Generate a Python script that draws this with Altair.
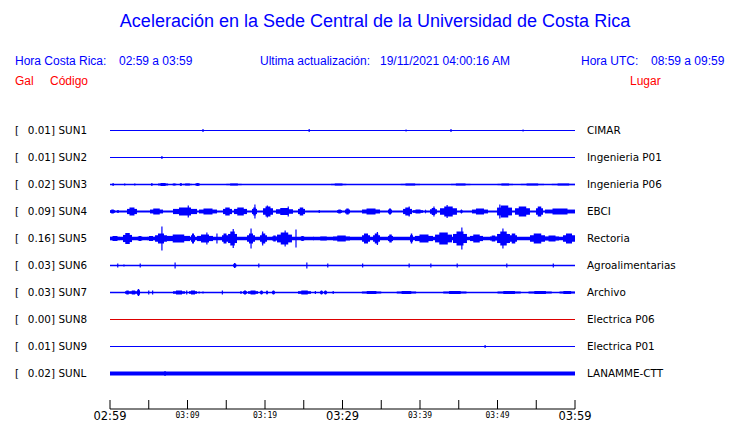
import altair as alt
import pandas as pd

# ---------------- data ----------------
codes = ["SUN1", "SUN2", "SUN3", "SUN4", "SUN5", "SUN6", "SUN7", "SUN8", "SUN9", "SUNL"]
gal = ["0.01", "0.01", "0.02", "0.09", "0.16", "0.03", "0.03", "0.00", "0.01", "0.02"]
places = ["CIMAR", "Ingenieria P01", "Ingenieria P06", "EBCI", "Rectoria",
          "Agroalimentarias", "Archivo", "Electrica P06", "Electrica P01", "LANAMME-CTT"]

# minutes after 02:59, tick every 5 min
tick_minutes = [0, 5, 10, 15, 20, 25, 30, 35, 40, 45, 50, 55, 60]
major_ticks = [0, 30, 60]
major_labels = ["02:59", "03:29", "03:59"]
minor_ticks = [10, 20, 40, 50]
minor_labels = ["03:09", "03:19", "03:39", "03:49"]

# waveform envelopes: (start min, end min, half amplitude)
sun1_bursts = []
sun1_spikes = [(12.0, 1.5), (25.7, 1.5), (38.2, 1.0), (44.0, 1.5), (53.3, 1.0)]
sun2_bursts = []
sun2_spikes = [(6.7, 1.5)]
sun3_bursts = [(5.3, 5.5, 1.5), (6.2, 7.5, 1.5), (8.0, 8.6, 1), (9.0, 9.3, 1.5), (9.4, 10.6, 1),
               (11.0, 11.6, 1.5), (15.0, 17.0, 1), (28.5, 30.5, 1), (37.5, 40.0, 1),
               (44.0, 46.5, 1), (50.0, 52.0, 1), (53.0, 56.0, 1), (57.0, 60.0, 1)]
sun3_spikes = [(0.4, 1.5), (1.9, 1.0), (3.2, 1.0)]
sun4_bursts = [(0.0, 0.65, 2), (0.9, 1.16, 1.5), (2.19, 3.48, 4), (5.16, 6.84, 3), (8.13, 11.23, 4),
               (11.48, 13.81, 3), (14.58, 15.74, 4), (16.0, 17.68, 4), (18.32, 18.97, 4),
               (19.74, 21.03, 5), (21.42, 23.61, 3.5), (24.26, 25.16, 4), (29.29, 29.94, 2),
               (30.32, 30.97, 3), (32.52, 34.84, 3), (35.87, 36.39, 3), (37.81, 38.97, 4),
               (39.10, 40.39, 2), (40.65, 40.8, 2), (41.29, 42.19, 3.5), (42.58, 44.77, 5),
               (45.2, 45.5, 2), (46.71, 48.77, 3), (49.94, 51.87, 6), (52.26, 54.19, 5),
               (54.97, 55.87, 5), (56.13, 60.0, 3)]
sun4_spikes = [(10.1, 6), (18.7, 7), (20.3, 6), (23.0, 5), (27.0, 1.5), (38.6, 5), (41.8, 5),
               (43.5, 6.5), (50.3, 7)]
sun5_bursts = [(0.0, 1.29, 2.5), (1.68, 2.84, 5.5), (3.48, 4.26, 2.5), (4.77, 5.81, 2.5),
               (5.81, 7.35, 5), (7.35, 10.32, 4), (10.45, 10.97, 5), (11.23, 13.29, 4),
               (14.45, 15.23, 5), (15.23, 16.39, 7), (17.68, 18.71, 5), (19.35, 20.26, 5),
               (20.90, 21.55, 3), (21.55, 23.48, 6), (24.52, 25.16, 2.5), (26.19, 26.3, 2),
               (26.71, 28.39, 2), (28.77, 30.97, 3), (32.52, 33.55, 5), (33.94, 34.84, 5),
               (35.87, 36.52, 4), (38.71, 39.10, 5), (39.35, 41.68, 4), (41.94, 44.13, 6),
               (44.26, 46.06, 7), (46.45, 48.13, 4), (49.03, 49.94, 3), (49.94, 51.61, 7),
               (51.61, 52.52, 5), (54.19, 56.13, 5), (56.13, 57.94, 3), (58.45, 60.0, 5)]
sun5_spikes = [(6.7, 12), (12.5, 6), (13.8, 5), (15.9, 9.5), (18.2, 10), (19.7, 7), (22.6, 8),
               (24.0, 9), (34.5, 6.5), (45.4, 11), (50.7, 10)]
sun6_bursts = [(15.9, 16.3, 2.5)]
sun6_spikes = [(1.0, 2), (1.8, 1), (3.9, 2), (8.4, 3), (19.2, 2), (25.4, 3), (28.1, 2),
               (32.6, 2), (38.6, 2), (41.4, 2), (44.8, 2), (51.2, 2), (57.2, 2)]
sun7_bursts = [(1.94, 2.58, 2), (2.58, 3.48, 2), (3.48, 3.87, 3.5), (8.13, 9.68, 2),
               (10.19, 11.23, 2), (17.16, 17.68, 2), (17.81, 19.10, 2), (19.35, 19.74, 2),
               (20.13, 20.39, 2), (20.90, 21.29, 2), (24.26, 25.94, 2), (27.10, 27.48, 2),
               (27.61, 28.0, 2), (32.5, 35.0, 1.5), (37.0, 39.5, 1.5), (43.0, 46.0, 1.5),
               (50.0, 53.0, 1.5), (54.0, 57.0, 1.5), (58.0, 60.0, 1.5)]
sun7_spikes = [(5.0, 2), (5.5, 2), (9.9, 2), (11.5, 1), (12.0, 1), (14.5, 2), (16.9, 1.5),
               (26.5, 1.5), (28.8, 1.5)]
sun8_bursts = []
sun8_spikes = []
sun9_bursts = []
sun9_spikes = [(48.4, 1.5)]
sunl_bursts = []
sunl_spikes = [(7.1, 2.5)]

all_bursts = [sun1_bursts, sun2_bursts, sun3_bursts, sun4_bursts, sun5_bursts,
              sun6_bursts, sun7_bursts, sun8_bursts, sun9_bursts, sunl_bursts]
all_spikes = [sun1_spikes, sun2_spikes, sun3_spikes, sun4_spikes, sun5_spikes,
              sun6_spikes, sun7_spikes, sun8_spikes, sun9_spikes, sunl_spikes]

# ---------------- style ----------------
BLUE = "#0000ff"
RED = "#ff0000"
trace_colors = [BLUE] * 7 + ["#dd0000"] + [BLUE] * 2
base_width = [1, 1, 1.3, 2, 3.5, 1.5, 1.5, 1, 1, 4]
ROW = 27.0  # pixels per trace row
W, H = 465, 291
Y0 = -12.5 / ROW

xs = alt.Scale(domain=[0, 60], nice=False, zero=False)
ys = alt.Scale(domain=[Y0, Y0 + H / ROW], reverse=True, nice=False, zero=False)
X = lambda f: alt.X(f, type="quantitative", scale=xs, axis=None)
Y = lambda f: alt.Y(f, type="quantitative", scale=ys, axis=None)

base_df = pd.DataFrame({"row": list(range(10)), "t0": 0, "t1": 60,
                        "w": base_width, "c": trace_colors})
b_rows, s_rows = [], []
for i in range(10):
    for t0, t1, a in all_bursts[i]:
        q = (t1 - t0) / 4.0
        b_rows.append({"t0": t0, "t1": t1, "lo": i - 0.65 * a / ROW, "hi": i + 0.65 * a / ROW,
                       "c": trace_colors[i]})
        b_rows.append({"t0": t0 + q, "t1": t1 - q, "lo": i - a / ROW, "hi": i + a / ROW,
                       "c": trace_colors[i]})
    for t, a in all_spikes[i]:
        s_rows.append({"t": t, "lo": i - a / ROW, "hi": i + a / ROW, "c": trace_colors[i]})
burst_df = pd.DataFrame(b_rows)
spike_df = pd.DataFrame(s_rows)

baselines = alt.Chart(base_df).mark_rule().encode(
    x=X("t0"), x2="t1", y=Y("row"),
    strokeWidth=alt.StrokeWidth("w:Q", scale=None),
    color=alt.Color("c:N", scale=None))
bursts = alt.Chart(burst_df).mark_rect().encode(
    x=X("t0"), x2="t1", y=Y("lo"), y2="hi", color=alt.Color("c:N", scale=None))
spikes = alt.Chart(spike_df).mark_rule(strokeWidth=1.2).encode(
    x=X("t"), y=Y("lo"), y2="hi", color=alt.Color("c:N", scale=None))

lab_df = pd.DataFrame({"row": list(range(10)), "code": codes,
                       "gal": [g + "]" for g in gal], "place": places})
LF = "DejaVu Sans"
LS = 10.4
left_br = alt.Chart(lab_df).mark_text(align="left", baseline="middle", font=LF, fontSize=LS,
                                      color="black", text="[").encode(x=alt.value(-95), y=Y("row"))
left_gal = alt.Chart(lab_df).mark_text(align="right", baseline="middle", font=LF, fontSize=LS,
                                       color="black").encode(x=alt.value(-55), y=Y("row"), text="gal:N")
left_code = alt.Chart(lab_df).mark_text(align="left", baseline="middle", font=LF, fontSize=LS,
                                        color="black").encode(x=alt.value(-51.5), y=Y("row"), text="code:N")
right_place = alt.Chart(lab_df).mark_text(align="left", baseline="middle", font=LF, fontSize=LS,
                                          color="black").encode(x=alt.value(477), y=Y("row"), text="place:N")

# axis
axis_line = alt.Chart(pd.DataFrame({"a": [0]})).mark_rule(color="black", strokeWidth=1).encode(
    x=alt.value(0), x2=alt.value(W), y=alt.value(H))
tick_df = pd.DataFrame({"t": tick_minutes})
ticks = alt.Chart(tick_df).mark_rule(color="black", strokeWidth=1).encode(
    x=X("t"), y=alt.value(H - 9), y2=alt.value(H))
maj_df = pd.DataFrame({"t": major_ticks, "lab": major_labels})
min_df = pd.DataFrame({"t": minor_ticks, "lab": minor_labels})
maj_text = alt.Chart(maj_df).mark_text(baseline="middle", font="DejaVu Sans", fontSize=11.5,
                                       color="black").encode(x=X("t"), y=alt.value(H + 7.5), text="lab:N")
min_text = alt.Chart(min_df).mark_text(baseline="middle", font="DejaVu Sans Mono", fontSize=8,
                                       color="black").encode(x=X("t"), y=alt.value(H + 6.5), text="lab:N")

one = pd.DataFrame({"a": [0]})
HF = "Liberation Sans"
OX, OY = 110, 118


def txt(s, x, y, color=BLUE, size=12, align="left"):
    return alt.Chart(one).mark_text(text=s, align=align, baseline="middle", font=HF,
                                    fontSize=size, color=color).encode(
        x=alt.value(x - OX), y=alt.value(y - OY))


headers = [
    txt("Aceleración en la Sede Central de la Universidad de Costa Rica", 375, 22, size=18,
        align="center"),
    txt("Hora Costa Rica:", 15, 61),
    txt("02:59 a 03:59", 119, 61),
    txt("Ultima actualización:", 260, 61),
    txt("19/11/2021 04:00:16 AM", 380, 61),
    txt("Hora UTC:", 581, 61),
    txt("08:59 a 09:59", 651, 61),
    txt("Gal", 15, 81, color=RED),
    txt("Código", 50, 81, color=RED),
    txt("Lugar", 630, 81, color=RED),
]

chart = alt.layer(
    baselines, bursts, spikes, left_br, left_gal, left_code, right_place,
    axis_line, ticks, maj_text, min_text, *headers
).properties(
    width=W, height=H,
    padding={"left": 102, "top": 110, "right": 157, "bottom": 14},
    autosize=alt.AutoSizeParams(type="none"),
    background="white",
).configure_view(stroke=None)

chart.save("out.html", embed_options={"renderer": "svg", "actions": False})
